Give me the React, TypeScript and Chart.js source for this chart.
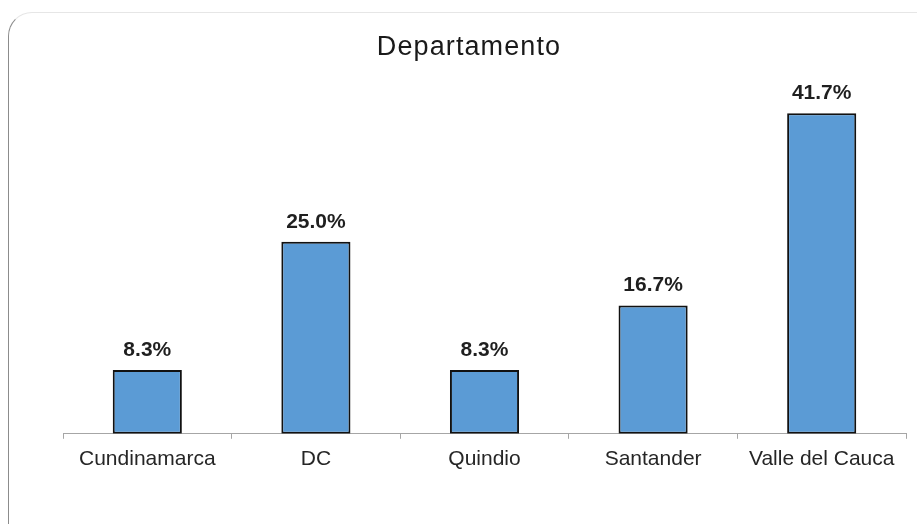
import React, { useEffect, useRef } from "react";
import { Chart, registerables } from "chart.js";

Chart.register(...registerables);

const categories = ["Cundinamarca", "DC", "Quindio", "Santander", "Valle del Cauca"];
const values = [8.3, 25.0, 8.3, 16.7, 41.7];
const valueLabels = ["8.3%", "25.0%", "8.3%", "16.7%", "41.7%"];
const chartTitle = "Departamento";

const FONT = "'Liberation Sans', Arial, sans-serif";

const dataLabelPlugin = {
  id: "dataLabels",
  afterDatasetsDraw(chart: any) {
    const ctx = chart.ctx;
    const meta = chart.getDatasetMeta(0);
    ctx.save();
    ctx.font = `bold 21px ${FONT}`;
    ctx.fillStyle = "#1f1f1f";
    ctx.textAlign = "center";
    ctx.textBaseline = "alphabetic";
    meta.data.forEach((bar: any, i: number) => {
      ctx.fillText(valueLabels[i], bar.x, bar.y - 14);
    });
    // chart title, centred on the outer frame
    ctx.font = `27px ${FONT}`;
    ctx.fillStyle = "#1a1a1a";
    (ctx as any).letterSpacing = "1.1px";
    ctx.textAlign = "center";
    ctx.textBaseline = "alphabetic";
    ctx.fillText(chartTitle, 469, 55);
    ctx.restore();
  },
};

export default function App() {
  const ref = useRef<HTMLCanvasElement | null>(null);

  useEffect(() => {
    if (!ref.current) return;
    const chart = new Chart(ref.current, {
      type: "bar",
      data: {
        labels: categories,
        datasets: [
          {
            data: values,
            backgroundColor: "#5b9bd5",
            borderColor: "#111111",
            borderWidth: 2,
            borderSkipped: false,
            categoryPercentage: 1,
            barPercentage: 0.41,
          },
        ],
      },
      options: {
        animation: false,
        responsive: false,
        maintainAspectRatio: false,
        layout: { padding: { left: 63, right: 11, top: 88, bottom: 44 } },
        plugins: {
          legend: { display: false },
          tooltip: { enabled: false },
          title: { display: false },
        },
        scales: {
          x: {
            grid: {
              display: true,
              drawOnChartArea: false,
              drawTicks: true,
              tickLength: 5,
              color: "#a6a6a6",
              offset: true,
            },
            border: { display: true, color: "#a6a6a6", width: 1 },
            ticks: {
              color: "#262626",
              font: { family: FONT, size: 21 },
              padding: 8,
              maxRotation: 0,
              autoSkip: false,
            },
          },
          y: {
            display: false,
            min: 0,
            max: 45,
          },
        },
      },
      plugins: [dataLabelPlugin],
    });
    return () => chart.destroy();
  }, []);

  return (
    <div style={{ position: "fixed", left: 0, top: 0, width: 917, height: 524, overflow: "hidden", background: "#fff" }}>
      <div
        style={{
          position: "absolute",
          left: 8,
          top: 12,
          width: 960,
          height: 540,
          borderRadius: 24,
          borderTop: "1px solid #e6e6e6",
          borderLeft: "1px solid #8c8c8c",
          borderRight: "1px solid #e6e6e6",
          borderBottom: "1px solid #8c8c8c",
          boxSizing: "border-box",
        }}
      />
      <canvas ref={ref} width={917} height={524} style={{ position: "absolute", left: 0, top: 0 }} />
    </div>
  );
}
